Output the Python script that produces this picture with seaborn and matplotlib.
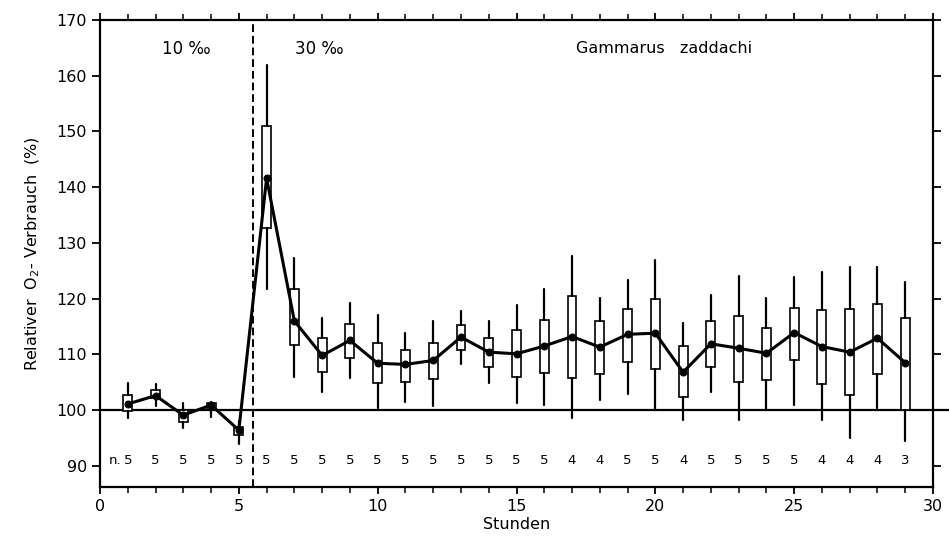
import numpy as np
import pandas as pd
import matplotlib
matplotlib.use("Agg")
import matplotlib.pyplot as plt
import seaborn as sns

# hours
hours = list(range(1, 30))
# mean relative O2 consumption (%)
means = [101.1, 102.6, 99.1, 100.9, 96.4, 141.6, 116.0, 109.8, 112.5, 108.4,
         108.2, 108.9, 113.1, 110.4, 110.1, 111.5, 113.2, 111.3, 113.6, 113.8,
         106.8, 111.9, 111.1, 110.2, 113.9, 111.4, 110.4, 112.9, 108.5]
box_low = [99.8, 102.1, 97.9, 100.4, 95.6, 132.7, 111.6, 106.8, 109.3, 104.8,
           105.1, 105.5, 110.8, 107.7, 106.0, 106.7, 105.8, 106.4, 108.6, 107.4,
           102.4, 107.7, 105.1, 105.4, 108.9, 104.6, 102.7, 106.4, 100.0]
box_high = [102.7, 103.6, 100.0, 101.3, 97.0, 150.9, 121.8, 112.9, 115.5, 112.1,
            110.7, 112.0, 115.3, 113.0, 114.3, 116.2, 120.5, 116.0, 118.2, 120.0,
            111.5, 115.9, 116.8, 114.7, 118.4, 118.0, 118.2, 119.1, 116.6]
whisk_low = [98.5, 100.7, 96.7, 98.8, 94.0, 121.8, 106.0, 103.2, 105.7, 100.4,
             101.5, 100.7, 108.3, 104.8, 101.2, 100.9, 98.5, 101.8, 102.8, 100.0,
             98.2, 103.3, 98.2, 100.0, 100.9, 98.2, 95.0, 100.3, 94.5]
whisk_high = [104.8, 104.6, 101.3, 101.5, 98.0, 162.0, 127.3, 116.6, 119.3, 117.0,
              113.8, 116.0, 117.7, 116.0, 118.9, 121.8, 127.7, 120.2, 123.4, 126.9,
              115.6, 120.6, 124.1, 120.1, 123.9, 124.7, 125.6, 125.6, 122.9]
n_labels = ["5", "5", "5", "5", "5", "5", "5", "5", "5", "5", "5", "5", "5", "5",
            "5", "5", "4", "4", "5", "5", "4", "5", "5", "5", "5", "4", "4", "4", "3"]
x_ticks = [0, 5, 10, 15, 20, 25, 30]
y_ticks = [90, 100, 110, 120, 130, 140, 150, 160, 170]

sns.set_theme(style="ticks")
plt.rcParams['font.family'] = ['DejaVu Sans']
plt.rcParams['text.color'] = 'black'
plt.rcParams['axes.labelcolor'] = 'black'
plt.rcParams['xtick.color'] = 'black'
plt.rcParams['ytick.color'] = 'black'

fig = plt.figure(figsize=(9.49, 5.56), dpi=100)
ax = fig.add_axes([100 / 949, 1 - 487 / 556, 833 / 949, 467 / 556])

stats = []
for i, h in enumerate(hours):
    stats.append(dict(med=means[i], q1=box_low[i], q3=box_high[i],
                      whislo=whisk_low[i], whishi=whisk_high[i], fliers=[]))
ax.bxp(stats, positions=hours, widths=0.32, showcaps=False, patch_artist=True,
       boxprops=dict(facecolor="white", edgecolor="black", linewidth=1.2),
       whiskerprops=dict(color="black", linewidth=1.6),
       medianprops=dict(linewidth=0), manage_ticks=False, zorder=2)

df = pd.DataFrame({"Stunden": hours, "O2": means})
sns.lineplot(data=df, x="Stunden", y="O2", ax=ax, color="black", linewidth=2.2,
             marker="o", markersize=5, markeredgecolor="black", zorder=4)

ax.plot([0, 1.045], [100, 100], transform=ax.get_yaxis_transform(),
        color="black", linewidth=1.6, zorder=1, clip_on=False)
ax.axvline(5.5, color="black", linewidth=1.4, linestyle=(0, (4, 2)), zorder=1)

for h, n in zip(hours, n_labels):
    ax.text(h, 91, n, ha="center", va="center", fontsize=9.5)
ax.text(0.55, 91, "n.", ha="center", va="center", fontsize=9.5)

ax.text(3.1, 164.8, "10 ‰", ha="center", va="center", fontsize=12)
ax.text(7.9, 164.8, "30 ‰", ha="center", va="center", fontsize=12)
ax.text(20.3, 164.8, "Gammarus   zaddachi", ha="center", va="center", fontsize=11.5)

ax.set_xlim(0, 30)
ax.set_ylim(86.2, 170)
ax.set_xticks(x_ticks)
ax.set_xticks(range(0, 31), minor=True)
ax.set_yticks(y_ticks)
ax.set_xlabel("Stunden", fontsize=11.5, labelpad=2)
ax.set_ylabel("Relativer  O$_2$- Verbrauch  (%)", fontsize=11.5, labelpad=10)
ax.tick_params(axis="both", which="major", labelsize=11.5, length=6, width=1.3,
               direction="out")
ax.tick_params(axis="x", which="both", top=True, bottom=True)
ax.tick_params(axis="x", which="major", length=5)
ax.tick_params(axis="x", which="minor", length=4, width=1.1, direction="out")
ax.tick_params(axis="y", which="major", right=True, left=True)
for s in ax.spines.values():
    s.set_linewidth(1.6)
    s.set_color("black")

fig.savefig("out.png", dpi=100, facecolor="white")
